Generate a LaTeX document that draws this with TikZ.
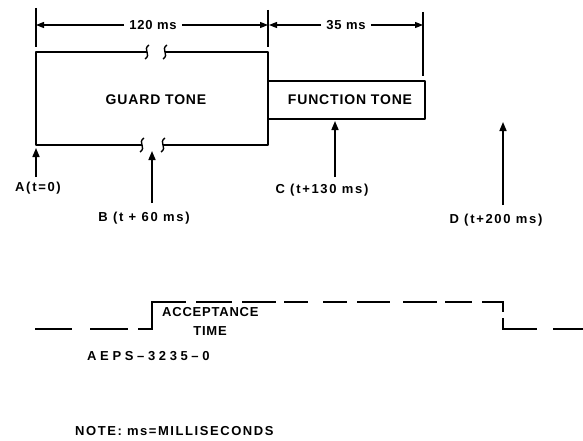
\documentclass[tikz,border=0pt]{standalone}
\usepackage{fontspec}
\newfontfamily\lett{Liberation Sans}[LetterSpace=6]
\newfontfamily\lettlab{Liberation Sans}[LetterSpace=13]
\newfontfamily\lettwide{Liberation Sans}[LetterSpace=28]
\newfontfamily\lettnote{Liberation Sans}[LetterSpace=12]
\usetikzlibrary{arrows.meta}
\begin{document}
\begin{tikzpicture}[x=1pt,y=-1pt,
  box/.style={line width=2.1pt, line join=round},
  dim/.style={line width=1.2pt},
  tipdim/.style={-{Triangle[length=8pt,width=6pt]}},
  ptr/.style={line width=1.6pt,-{Triangle[length=9pt,width=7pt]}},
  txt/.style={font=\lett\bfseries\fontsize{13}{15}\selectfont, inner sep=0pt},
  labtxt/.style={font=\lettlab\bfseries\fontsize{13}{15}\selectfont, inner sep=0pt},
  bigtxt/.style={font=\lett\bfseries\fontsize{14}{16}\selectfont, inner sep=0pt},
  wave/.style={line width=2.1pt},
  squig/.style={line width=1.4pt}]
\useasboundingbox (0,0) rectangle (583,441);

% guard tone box (with breaks)
\draw[box] (147,52) -- (36,52) -- (36,145) -- (142,145);
\draw[box] (165,52) -- (268,52) -- (268,145) -- (163,145);
\foreach \sx/\sy in {147/52,165/52,142/145,163/145}
  \draw[squig] (\sx-2,\sy+7) .. controls (\sx+5,\sy+2) and (\sx-5,\sy-2) .. (\sx+2,\sy-7);
\node[bigtxt] (guard) at (156,100) {GUARD TONE};

% function tone box
\draw[box] (268,81) -- (425,81) -- (425,119) -- (268,119);
\node[bigtxt] (func) at (350,100) {FUNCTION TONE};

% dimension lines
\draw[dim] (36,8) -- (36,47);
\draw[dim] (268,10) -- (268,47);
\draw[dim] (423,12) -- (423,76);
\node[txt] (d120) at (153,25) {120 ms};
\node[txt] (d35) at (346,25) {35 ms};
\coordinate (e1) at (36,25);
\coordinate (e2) at (268,25);
\coordinate (e3) at (269,25);
\coordinate (e4) at (423,25);
\draw[dim,tipdim] ([xshift=-5pt]d120.west) -- (e1);
\draw[dim,tipdim] ([xshift=5pt]d120.east) -- (e2);
\draw[dim,tipdim] ([xshift=-5pt]d35.west) -- (e3);
\draw[dim,tipdim] ([xshift=5pt]d35.east) -- (e4);

% event arrows
\coordinate (At) at (36,148);  \coordinate (Ab) at (36,177);
\coordinate (Bt) at (152,151); \coordinate (Bb) at (152,203);
\coordinate (Ct) at (335,121); \coordinate (Cb) at (335,177);
\coordinate (Dt) at (503,122); \coordinate (Db) at (503,205);
\draw[ptr] (Ab) -- (At);
\draw[ptr] (Bb) -- (Bt);
\draw[ptr] (Cb) -- (Ct);
\draw[ptr] (Db) -- (Dt);
\node[labtxt] (A) at (38,188) {A(t=0)};
\node[labtxt] (B) at (144,218) {B (t + 60 ms)};
\node[labtxt] (C) at (322,190) {C (t+130 ms)};
\node[labtxt] (D) at (496,220) {D (t+200 ms)};

% acceptance waveform (dashed)
\draw[wave] (35,329) -- (72,329);
\draw[wave] (90,329) -- (128,329);
\draw[wave] (138,329) -- (152,329) -- (152,302) -- (186,302);
\foreach \xa/\xb in {196/232,242/276,284/308,323/347,357/390,403/437,445/472}
  \draw[wave] (\xa,302) -- (\xb,302);
\draw[wave] (482,302) -- (503,302) -- (503,312);
\draw[wave] (503,318) -- (503,329) -- (537,329);
\draw[wave] (553,329) -- (583,329);
\node[txt,anchor=west] (acc) at (162,312) {ACCEPTANCE};
\node[txt] (time) at (210,331) {TIME};

\node[txt,font=\lettwide\bfseries\fontsize{13}{15}\selectfont,anchor=west] (aeps) at (87,356) {AEPS–3235–0};
\node[txt,font=\lettnote\bfseries\fontsize{13}{15}\selectfont,anchor=west] (note) at (75,431) {NOTE: ms=MILLISECONDS};
\end{tikzpicture}
\end{document}
